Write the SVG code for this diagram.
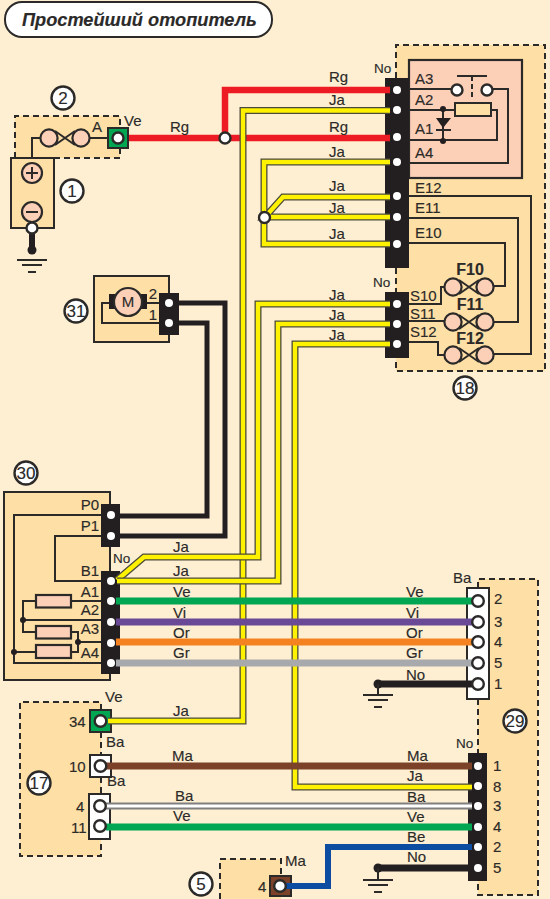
<svg xmlns="http://www.w3.org/2000/svg" width="550" height="899" viewBox="0 0 550 899">
<style>
text{font-family:"Liberation Sans",Arial,sans-serif;font-size:15px;fill:#2b2a29;stroke:#2b2a29;stroke-width:.15}
.s{font-size:13.5px}
.f{font-weight:bold;font-size:16px;text-anchor:middle}
.m{text-anchor:middle}
.n{text-anchor:middle;font-size:17px}
.e{text-anchor:end}
.t{font-weight:bold;font-style:italic;font-size:18.2px}
.b{fill:#fedfa5;stroke:#2b2a29;stroke-width:2}
.d{fill:#fedfa5;stroke:none}
.dash{fill:none;stroke:#2b2a29;stroke-width:2;stroke-dasharray:6 4}
.l{fill:none;stroke:#2b2a29;stroke-width:2}
.w{fill:none;stroke-linejoin:miter}
.num{fill:#fff;stroke:#2b2a29;stroke-width:2.4}
.p{fill:#fff;stroke:none}
.tp{fill:#fff;stroke:#2b2a29;stroke-width:2.4}
.pk{fill:#fccfb7;stroke:#2b2a29;stroke-width:2.2}
.k{fill:#231f20;stroke:none}
.yo{fill:none;stroke:#4a4a3a;stroke-width:7}
.yi{fill:none;stroke:#fff200;stroke-width:4.4}
</style>
<defs>
<g id="fuse"><path class="l" d="M-10-7 10 7M-10 7 10-7"/><circle class="pk" cx="-16" cy="0" r="8.600"/><circle class="pk" cx="16" cy="0" r="8.600"/></g>
<g id="gnd"><path class="l" d="M-15 0H15M-10 5H10M-4 12H4"/></g>
</defs>
<rect width="550" height="899" fill="#feefd2"/>
<g id="title"><rect x="5" y="2" width="267" height="35" rx="17" fill="#fff" stroke="#2b2a29" stroke-width="2"/><text class="t" x="22" y="26">Простейший отопитель</text></g>

<g id="node-2"><rect class="d" x="15" y="116" width="105" height="42"/><path class="dash" d="M15 158V116H120V128M120 148V158H55"/><circle class="num" cx="63" cy="98" r="11.500"/><text class="n" x="63" y="104">2</text><path class="l" d="M32 158V138H40M90 138H108"/><use href="#fuse" x="65" y="138"/><text x="92" y="132">A</text><text x="124" y="126">Ve</text></g>
<g id="node-1"><rect class="b" x="11" y="158" width="43" height="70"/><circle class="pk" cx="32" cy="173" r="10"/><path class="l" d="M26 173H38M32 167V179"/><circle class="pk" cx="32" cy="212" r="10"/><path class="l" d="M26 212H38"/><circle class="num" cx="72" cy="191" r="11.500"/><text class="n" x="72" y="197">1</text></g>
<g id="ground-1"><path d="M32 228V250" stroke="#231f20" stroke-width="6"/><circle class="k" cx="32" cy="250" r="4.500"/><use href="#gnd" x="32" y="260"/></g>

<g id="node-18"><rect class="d" x="396" y="45" width="149" height="326"/><path class="dash" d="M396 78V45H545V371H396V358M396 268V292"/>
<rect class="pk" x="409" y="60" width="113" height="118"/>
<path class="l" d="M409 89H452M493 89H508V163H409M457 76H487"/><path class="l" stroke-dasharray="5 3" d="M472 76V100"/>
<path class="l" d="M409 110H455M491 110H497V140H409M443 109V141M436 130H451"/>
<path d="M436 118H451L443 128Z" fill="#231f20"/><circle class="k" cx="443" cy="109" r="3"/><circle class="k" cx="443" cy="141" r="3"/>
<rect class="b" x="455" y="103" width="36" height="13"/>
<circle class="tp" cx="457" cy="90" r="5.500"/><circle class="tp" cx="487" cy="90" r="5.500"/>
<path class="l" d="M409 196H531V354H494M409 218H518V322H494M409 243H505V286H494M409 304H441V287H445M409 321H445M409 342H438V355H445"/>
<use href="#fuse" x="469" y="287"/><use href="#fuse" x="469" y="322"/><use href="#fuse" x="469" y="355"/>
<text class="f" x="470" y="275">F10</text><text class="f" x="470" y="310">F11</text><text class="f" x="470" y="344">F12</text>
<rect class="k" x="385" y="78" width="24" height="190"/><rect class="k" x="385" y="292" width="24" height="66"/>
<g class="p"><circle cx="397" cy="90" r="4"/><circle cx="397" cy="110" r="4"/><circle cx="397" cy="137" r="4"/><circle cx="397" cy="162" r="4"/><circle cx="397" cy="196" r="4"/><circle cx="397" cy="217" r="4"/><circle cx="397" cy="244" r="4"/><circle cx="397" cy="304" r="4"/><circle cx="397" cy="324" r="4"/><circle cx="397" cy="344" r="4"/></g>
<text x="415" y="84">A3</text><text x="415" y="105">A2</text><text x="415" y="134">A1</text><text x="415" y="158">A4</text><text x="415" y="193">E12</text><text x="415" y="213">E11</text><text x="415" y="238">E10</text><text x="410" y="301">S10</text><text x="410" y="319">S11</text><text x="410" y="337">S12</text>
<text class="s" x="374" y="73">No</text><text class="s" x="373" y="287">No</text>
<circle class="num" cx="465" cy="388" r="11.500"/><text class="n" x="465" y="394">18</text></g>

<g id="node-31"><rect class="b" x="94" y="276" width="75" height="66"/><rect class="k" x="109" y="294" width="38" height="15"/><circle class="pk" cx="128" cy="302" r="14"/><text class="m" x="128" y="307">M</text><path class="l" d="M147 303H160M109 303H102V323H160"/><rect class="k" x="159" y="293" width="20" height="42"/><circle class="p" cx="169" cy="303" r="4"/><circle class="p" cx="169" cy="323" r="4"/><text class="m" x="153" y="299">2</text><text class="m" x="153" y="320">1</text><circle class="num" cx="76" cy="311" r="11.500"/><text class="n" x="76" y="317">31</text></g>

<g id="node-30"><rect class="b" x="4" y="492" width="106" height="188"/>
<path class="l" d="M102 515H14V663H102M102 536H55V581H102M71 601H102M36 601H23V632H36M23 620H102M71 632H78V652H71M78 642H102M36 652H14"/>
<circle class="k" cx="23" cy="620" r="3"/><circle class="k" cx="78" cy="642" r="3"/><circle class="k" cx="14" cy="652" r="3"/>
<rect class="pk" x="36" y="595" width="35" height="12.500"/><rect class="pk" x="36" y="626" width="35" height="12.500"/><rect class="pk" x="36" y="645" width="35" height="13"/>
<rect class="k" x="101" y="504" width="19" height="43"/><rect class="k" x="101" y="571" width="19" height="103"/>
<g class="p"><circle cx="111" cy="515" r="4"/><circle cx="111" cy="536" r="4"/><circle cx="111" cy="581" r="4"/><circle cx="111" cy="601" r="4"/><circle cx="111" cy="622" r="4"/><circle cx="111" cy="643" r="4"/><circle cx="111" cy="663" r="4"/></g>
<text class="e" x="99" y="510">P0</text><text class="e" x="99" y="531">P1</text><text class="e" x="99" y="576">B1</text><text class="e" x="99" y="597">A1</text><text class="e" x="99" y="615">A2</text><text class="e" x="99" y="634">A3</text><text class="e" x="99" y="658">A4</text><text class="s" x="113" y="563">No</text>
<circle class="num" cx="26" cy="473" r="11.500"/><text class="n" x="26" y="479">30</text></g>

<g id="node-17"><rect class="d" x="20" y="702" width="81" height="154"/><path class="dash" d="M101 710V702H20V856H101V839"/><path class="dash" d="M101 732V755M101 777V794"/>
<rect x="90" y="710" width="21" height="22" fill="#00a651" stroke="#2b2a29" stroke-width="2"/><rect x="90" y="755" width="21" height="22" fill="#fff" stroke="#2b2a29" stroke-width="2"/><rect x="89" y="794" width="21" height="45" fill="#fff" stroke="#2b2a29" stroke-width="2"/>
<text x="69" y="727">34</text><text x="69" y="772">10</text><text x="76" y="812">4</text><text x="71" y="833">11</text><text x="105" y="702">Ve</text><text x="106" y="747">Ba</text><text x="107" y="786">Ba</text>
<circle class="num" cx="39" cy="783" r="11.500"/><text class="n" x="39" y="789">17</text></g>

<g id="node-29"><rect class="d" x="478" y="579" width="60" height="316"/><path class="dash" d="M478 588V579H538V895H478V881M478 699V753"/>
<circle class="num" cx="515" cy="721" r="11.500"/><text class="n" x="515" y="727">29</text>
<rect x="467" y="588" width="22" height="111" fill="#fff" stroke="#2b2a29" stroke-width="2"/>
<rect class="k" x="468" y="753" width="19" height="128"/>
<text x="453" y="583">Ba</text><text class="s" x="456" y="748">No</text>
<text x="494" y="604">2</text><text x="494" y="627">3</text><text x="494" y="647">4</text><text x="494" y="668">5</text><text x="494" y="689">1</text>
<text x="493" y="771">1</text><text x="493" y="792">8</text><text x="493" y="811">3</text><text x="493" y="832">4</text><text x="493" y="852">2</text><text x="493" y="873">5</text></g>

<g id="node-5"><rect class="d" x="220" y="859" width="61" height="40"/><path class="dash" d="M220 899V859H281V876"/><text x="258" y="892">4</text><text x="285" y="866">Ma</text><circle class="num" cx="201" cy="884" r="11.500"/><text class="n" x="201" y="890">5</text><rect x="270" y="876" width="21" height="20" fill="#7b4229" stroke="#2b2a29" stroke-width="2"/></g>

<g id="connectors">
<path class="w" stroke="#ed1c24" stroke-width="6.500" d="M118 138H390M225 138V90H390"/>
<path class="yo" d="M390 110.500H243V721H108"/><path class="yi" d="M390 110.500H243V721H108"/>
<path class="yo" d="M390 162H264V244H390M390 197H283L265 217H390"/><path class="yi" d="M390 162H264V244H390M390 197H283L265 217H390"/>
<path class="yo" d="M390 304H258V557H144L117 580"/><path class="yi" d="M390 304H258V557H144L117 580"/>
<path class="yo" d="M390 324H278V581H117"/><path class="yi" d="M390 324H278V581H117"/>
<path class="yo" d="M390 344H295V787H472"/><path class="yi" d="M390 344H295V787H472"/>
<path class="w" stroke="#231f20" stroke-width="5" d="M175 303H225V536H118M175 323H207V516H118"/>
<path class="w" stroke="#00a651" stroke-width="7" d="M116 601H472"/><path class="w" stroke="#6a4a96" stroke-width="7" d="M116 622H472"/><path class="w" stroke="#f58220" stroke-width="7" d="M116 642H472"/><path class="w" stroke="#a7a9ac" stroke-width="7" d="M116 663H472"/>
<path class="w" stroke="#231f20" stroke-width="7" d="M378 684H472"/><circle class="k" cx="378" cy="684" r="4.500"/><path class="l" d="M378 684V695"/><use href="#gnd" x="378" y="695"/>
<path class="w" stroke="#7b4229" stroke-width="7" d="M106 766H472"/>
<path class="w" stroke="#7f7f7f" stroke-width="7" d="M106 806H472"/><path class="w" stroke="#fff" stroke-width="3" d="M106 806H472"/>
<path class="w" stroke="#00a651" stroke-width="7" d="M106 827H472"/>
<path class="w" stroke="#0d4da1" stroke-width="6" d="M286 886H328V847H472"/>
<path class="w" stroke="#231f20" stroke-width="7" d="M378 868H478"/><circle class="k" cx="378" cy="868" r="4.500"/><path class="l" d="M378 868V880"/><use href="#gnd" x="378" y="880"/>
<text x="170" y="132">Rg</text><text x="329" y="82">Rg</text><text x="329" y="105">Ja</text><text x="329" y="132">Rg</text><text x="329" y="157">Ja</text><text x="329" y="191">Ja</text><text x="329" y="213">Ja</text><text x="329" y="239">Ja</text><text x="329" y="300">Ja</text><text x="329" y="320">Ja</text><text x="329" y="340">Ja</text>
<text x="173" y="552">Ja</text><text x="173" y="576">Ja</text><text x="173" y="597">Ve</text><text x="173" y="618">Vi</text><text x="173" y="638">Or</text><text x="173" y="658">Gr</text><text x="173" y="716">Ja</text><text x="172" y="761">Ma</text><text x="175" y="801">Ba</text><text x="173" y="821">Ve</text>
<text x="406" y="597">Ve</text><text x="406" y="618">Vi</text><text x="406" y="638">Or</text><text x="406" y="658">Gr</text><text x="406" y="680">No</text><text x="407" y="761">Ma</text><text x="407" y="781">Ja</text><text x="407" y="802">Ba</text><text x="407" y="822">Ve</text><text x="407" y="842">Be</text><text x="407" y="862">No</text>
</g>
<g id="terminals">
<circle class="tp" cx="32" cy="228" r="5.500"/>
<rect x="108" y="128" width="20" height="20" fill="#00a651" stroke="#2b2a29" stroke-width="2"/><circle class="tp" cx="118" cy="138" r="5.500"/><circle class="tp" cx="225" cy="138" r="5.500"/><circle class="tp" cx="264.500" cy="217.500" r="5.500"/>
<circle class="tp" cx="100.500" cy="721" r="5.800"/><circle class="tp" cx="100.500" cy="766" r="5.800"/><circle class="tp" cx="100" cy="806" r="5.800"/><circle class="tp" cx="100" cy="826" r="5.800"/><circle class="tp" cx="280" cy="886" r="5.800"/>
<circle class="tp" cx="478" cy="601" r="5.800"/><circle class="tp" cx="478" cy="622" r="5.800"/><circle class="tp" cx="478" cy="642" r="5.800"/><circle class="tp" cx="478" cy="663" r="5.800"/><circle class="tp" cx="478" cy="684" r="5.800"/>
<g class="p"><circle cx="478" cy="766" r="4"/><circle cx="478" cy="786" r="4"/><circle cx="478" cy="806" r="4"/><circle cx="478" cy="827" r="4"/><circle cx="478" cy="847" r="4"/><circle cx="478" cy="868" r="4"/></g>
</g>
</svg>
